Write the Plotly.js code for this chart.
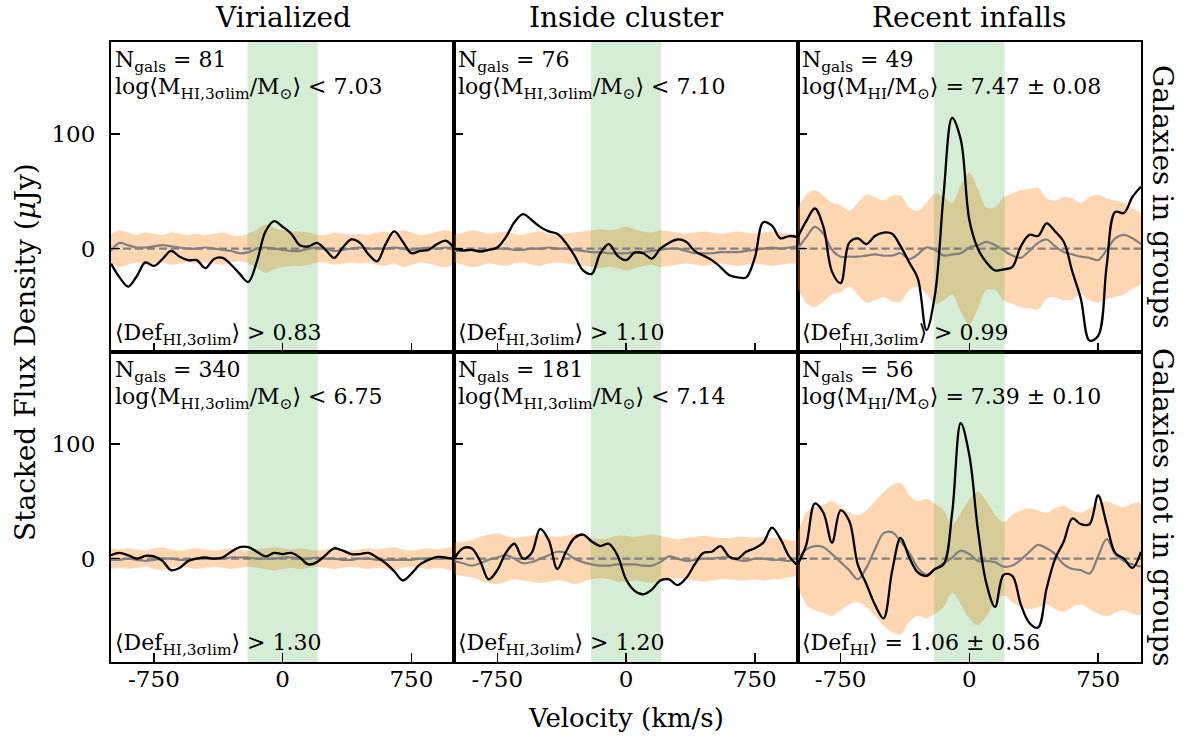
<!DOCTYPE html>
<html>
<head>
<meta charset="utf-8">
<script src="https://cdn.plot.ly/plotly-3.0.1.min.js"></script>
<style>html,body{margin:0;padding:0;background:#fff;}#chart{width:1192px;height:744px;}</style>
</head>
<body>
<div id="chart"></div>
<script>
// ---------------- DATA ----------------
const velocity = [-1000,-950,-900,-850,-800,-750,-700,-650,-600,-550,-500,-450,-400,-350,-300,-250,-200,-150,-100,-50,0,50,100,150,200,250,300,350,400,450,500,550,600,650,700,750,800,850,900,950,1000];

const columnTitles = ["Virialized", "Inside cluster", "Recent infalls"];
const rowTitles = ["Galaxies in groups", "Galaxies not in groups"];
const signalWindow = [-205, 205];
const xTickValues = [-750, 0, 750];
const xTickLabels = ["-750", "0", "750"];
const yTickValues = [0, 100];
const xRange = [-1000, 1000];
const yRange = [-90, 180];

// stacked spectra (black), control stacks (grey), noise half-width (orange band)
const stackGroupVir = [-13,-25,-33,-24,-12,-15,-9,-2,-7,-10,-10,-17,-9,-8,-14,-22,-29,-11,15,24,19,13,3,2,5,-1,-8,1,8,5,-5,-11,4,15,6,-4,-2,-1,4,7,0];
const controlGroupVir = [-2,5,3,1,1,2,3,2,1,0,0,1,0,-1,-2,-4,-3,0,1,0,-1,-2,-2,0,1,0,-2,-1,0,1,0,0,0,1,0,-1,0,1,0,1,0];
const noiseGroupVir = [12,16,14,12,14,13,12,14,13,12,13,12,13,14,12,11,13,17,21,18,16,15,15,14,12,12,14,13,12,13,12,14,15,13,16,14,12,13,15,16,13];

const stackGroupIn = [0,-1.5,-1,-2.5,-1,1,10,23,30,25,19,15,13,5,-6,-19,-22,-4,4,-6,-10,-3.5,-4,-8.7,0,5,8,6,-2,-6,-10,-16,-23,-25,-25,-8,23,20,9,11,10];
const controlGroupIn = [-2,-2,-1,-2,-1,0,0,-1,-1,0,0,1,0,0,-1,-2,-3,-3,-4,-4,-4,-3,-3,-2,-1,0,0,-2,-4,-4,-4,-3,-3,-3,-2,-1,0,1,0,1,2];
const noiseGroupIn = [12,14,16,15,13,14,15,13,12,14,15,13,12,13,14,15,16,17,16,17,19,17,15,14,16,15,14,13,14,15,14,13,14,15,14,13,14,15,14,13,12];

const stackGroupInfall = [10,24,35,19,-20,-30,5,9,4,11,14,13,2,-12,-26,-71,-40,47,114,95,25,0,-12,-19,-18,-16,2,12,11,22,15,6,-20,-44,-80,-76,-15,32,31,45,54];
const controlGroupInfall = [0,10,19,13,-1,-7,-7,-7,-6,-5,-6,-6,-4,-9,-5,1,-1,-6,-5,-4,1,3,6,3,-1.5,-6,-8,-2,5,8,2,-3,-5,-7,-8,-10,-1,9,12,9,4];
const noiseGroupInfall = [35,47,51,46,40,38,33,40,47,45,42,46,46,36,33,40,48,45,40,55,66,52,36,36,45,48,51,52,53,44,42,45,44,40,45,47,44,42,40,35,30];

const stackFieldVir = [3,5,3,0,2.5,2,-2,-10,-8,-2,0,1,0,1,6,10,10,6,2,5,4,5,1,-5,-3,3,9,7,4,4,5,1,-4,-11,-19,-13,-5,-1,1.5,1,0];
const controlFieldVir = [-1,-1,0,-1,-2,-1,0,0,-1,-1,0,0,0,0,1,1,1,0,0,0,1,1,0,0,1,0,0,-1,-1,0,0,-1,-1,-1,-1,-1,0,0,0,0,0];
const noiseFieldVir = [9,8,9,8,7,9,10,8,7,8,9,8,7,8,9,8,7,8,9,10,9,8,9,8,7,8,9,8,7,8,9,8,9,10,8,7,8,9,8,9,10];

const stackFieldIn = [0,9,9,-2,-18,-10,5,13,0,5,26,16,-9,6,18,21,15,11,13,3,-18,-28,-31,-27,-19,-18,-23,-17,-5,5,6,11,2,0,6,9,14,27,17,2,-6];
const controlFieldIn = [-2,-4,-6,-4,-1,1,3,0,-4,-3,0,3,6,5,0,-3,-5,-6,-6,-5,-5,-5,-6,-6,-3,2,0,-2,-1,0,0,1,1,-1,-2,0,0,-1,-1,-2,1];
const noiseFieldIn = [14,15,16,19,21,22,20,18,19,20,21,20,19,20,22,20,18,17,18,20,20,19,20,21,20,18,17,18,19,20,19,18,18,19,19,18,19,18,18,16,14];

const stackFieldInfall = [-5,12,48,40,14,42,33,-5,-22,-40,-52,-11,18,1,-12,-15,-9,-5,40,118,90,25,-22,-42,-14,-15,-40,-56,-60,-26,0,15,35,30,30,55,30,5,0,-8,6];
const controlFieldInfall = [-1,8,11,10,4,-3,-10,-18,-8,8,22,23,15,5,-8,-14,-9,-4,1,7,4,-2,-2,-3,-7,-6,-1,6,12,9,4,-5,-9,-10,-13,2,17,4,-2,-5,-7];
const noiseFieldInfall = [22,40,45,47,50,45,40,38,42,50,58,64,66,55,50,52,48,42,30,40,52,58,50,38,32,38,42,44,42,40,44,46,42,40,44,48,50,47,45,48,48];

const nGals = [81, 76, 49, 340, 181, 56];
const massLabels = [
  "log⟨M<sub>HI,3σlim</sub>/M<sub>⊙</sub>⟩ &lt; 7.03",
  "log⟨M<sub>HI,3σlim</sub>/M<sub>⊙</sub>⟩ &lt; 7.10",
  "log⟨M<sub>HI</sub>/M<sub>⊙</sub>⟩ = 7.47 ± 0.08",
  "log⟨M<sub>HI,3σlim</sub>/M<sub>⊙</sub>⟩ &lt; 6.75",
  "log⟨M<sub>HI,3σlim</sub>/M<sub>⊙</sub>⟩ &lt; 7.14",
  "log⟨M<sub>HI</sub>/M<sub>⊙</sub>⟩ = 7.39 ± 0.10"
];
const defLabels = [
  "⟨Def<sub>HI,3σlim</sub>⟩ &gt; 0.83",
  "⟨Def<sub>HI,3σlim</sub>⟩ &gt; 1.10",
  "⟨Def<sub>HI,3σlim</sub>⟩ &gt; 0.99",
  "⟨Def<sub>HI,3σlim</sub>⟩ &gt; 1.30",
  "⟨Def<sub>HI,3σlim</sub>⟩ &gt; 1.20",
  "⟨Def<sub>HI</sub>⟩ = 1.06 ± 0.56"
];

const stacks = [stackGroupVir, stackGroupIn, stackGroupInfall, stackFieldVir, stackFieldIn, stackFieldInfall];
const controls = [controlGroupVir, controlGroupIn, controlGroupInfall, controlFieldVir, controlFieldIn, controlFieldInfall];
const noises = [noiseGroupVir, noiseGroupIn, noiseGroupInfall, noiseFieldVir, noiseFieldIn, noiseFieldInfall];

// ---------------- STYLE ----------------
const FONT = "'DejaVu Serif', 'Liberation Serif', serif";
const ORANGE = "rgba(255,127,14,0.32)";
const GREEN = "rgba(44,160,44,0.2)";
const GREY = "rgb(128,128,128)";

const traces = [];
const layout = {
  width: 1192, height: 744,
  margin: {l: 111, r: 51, t: 42, b: 82},
  paper_bgcolor: "#fff", plot_bgcolor: "#fff",
  showlegend: false,
  font: {family: FONT, size: 20, color: "#000"},
  annotations: [], shapes: []
};

for (let i = 0; i < 6; i++) {
  const col = i % 3, row = Math.floor(i / 3);
  const n = i + 1;
  const xa = "x" + (n === 1 ? "" : n), ya = "y" + (n === 1 ? "" : n);
  const revV = velocity.slice().reverse();
  const noise = noises[i];
  traces.push({
    x: velocity.concat(revV),
    y: noise.concat(noise.slice().reverse().map(v => -v)),
    xaxis: xa, yaxis: ya, type: "scatter", mode: "lines",
    fill: "toself", fillcolor: ORANGE,
    line: {width: 0, shape: "spline", smoothing: 1}, hoverinfo: "skip"
  });
  traces.push({
    x: [signalWindow[0], signalWindow[1], signalWindow[1], signalWindow[0]],
    y: [yRange[0], yRange[0], yRange[1], yRange[1]],
    xaxis: xa, yaxis: ya, type: "scatter", mode: "lines",
    fill: "toself", fillcolor: GREEN, line: {width: 0}, hoverinfo: "skip"
  });
  traces.push({
    x: [xRange[0], xRange[1]], y: [0, 0],
    xaxis: xa, yaxis: ya, type: "scatter", mode: "lines",
    line: {color: GREY, width: 2.2, dash: "8px,4px"}, hoverinfo: "skip"
  });
  traces.push({
    x: velocity, y: controls[i], xaxis: xa, yaxis: ya, type: "scatter", mode: "lines",
    line: {color: GREY, width: 2.2, shape: "spline", smoothing: 1}
  });
  traces.push({
    x: velocity, y: stacks[i], xaxis: xa, yaxis: ya, type: "scatter", mode: "lines",
    line: {color: "#000", width: 2.3, shape: "spline", smoothing: 1}
  });

  const xKey = "xaxis" + (n === 1 ? "" : n), yKey = "yaxis" + (n === 1 ? "" : n);
  layout[xKey] = {
    domain: [col / 3, (col + 1) / 3], anchor: ya, range: xRange,
    tickvals: xTickValues, ticktext: xTickLabels, showticklabels: row === 1,
    ticks: "inside", ticklen: 9, tickwidth: 1.5, tickcolor: "#000",
    showline: true, linecolor: "#000", linewidth: 2, mirror: true,
    showgrid: false, zeroline: false, ticklabelstandoff: -5,
    tickfont: {family: FONT, size: 23, color: "#000"}, fixedrange: true
  };
  layout[yKey] = {
    domain: row === 0 ? [0.5, 1] : [0, 0.5], anchor: xa, range: yRange,
    tickvals: yTickValues, showticklabels: col === 0,
    ticks: "inside", ticklen: 9, tickwidth: 1.5, tickcolor: "#000",
    showline: true, linecolor: "#000", linewidth: 2, mirror: true,
    showgrid: false, zeroline: false, ticklabelstandoff: 9,
    tickfont: {family: FONT, size: 23, color: "#000"}, fixedrange: true
  };

  const common = {xref: xa + " domain", yref: ya + " domain", x: 0, xanchor: "left",
    showarrow: false, font: {family: FONT, size: 22, color: "#000"}, borderpad: 0};
  layout.annotations.push(Object.assign({}, common, {
    text: "N<sub>gals</sub> = " + nGals[i], y: 1, yanchor: "top", xshift: 3, yshift: -4}));
  layout.annotations.push(Object.assign({}, common, {
    text: massLabels[i], y: 1, yanchor: "top", xshift: 3, yshift: -31}));
  layout.annotations.push(Object.assign({}, common, {
    text: defLabels[i], y: 0, yanchor: "bottom", xshift: 3, yshift: 2}));
}

columnTitles.forEach((t, c) => layout.annotations.push({
  text: t, xref: "paper", yref: "paper", x: (c + 0.5) / 3, xanchor: "center", y: 1, yanchor: "bottom", yshift: 6,
  showarrow: false, font: {family: FONT, size: 28, color: "#000"}
}));
rowTitles.forEach((t, r) => layout.annotations.push({
  text: t, xref: "paper", yref: "paper", x: 1.0214, xanchor: "center", yanchor: "middle",
  y: r === 0 ? 0.75 : 0.25,
  textangle: 90, showarrow: false, font: {family: FONT, size: 28, color: "#000"}
}));
layout.annotations.push({
  text: "Velocity (km/s)", xref: "paper", yref: "paper", x: 0.5, xanchor: "center", y: -0.0903, yanchor: "middle",
  showarrow: false, font: {family: FONT, size: 26, color: "#000"}
});
layout.annotations.push({
  text: "Stacked Flux Density (<i>μ</i>Jy)", xref: "paper", yref: "paper", x: -0.0835, xanchor: "center",
  y: 0.5, yanchor: "middle", textangle: -90, showarrow: false, font: {family: FONT, size: 28, color: "#000"}
});

Plotly.newPlot("chart", traces, layout, {staticPlot: true, displayModeBar: false});
</script>
</body>
</html>
